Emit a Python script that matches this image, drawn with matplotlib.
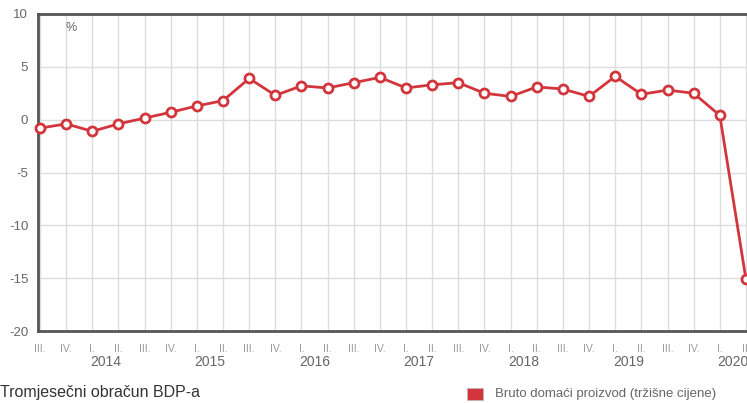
import matplotlib
matplotlib.use("Agg")
import matplotlib.pyplot as plt
import numpy as np

plt.rcParams['font.family'] = ['Liberation Sans', 'DejaVu Sans']
plt.rcParams['axes.unicode_minus'] = False

# quarterly GDP growth, III.2013 - II.2020
quarters = ['III.', 'IV.', 'I.', 'II.', 'III.', 'IV.', 'I.', 'II.', 'III.', 'IV.',
            'I.', 'II.', 'III.', 'IV.', 'I.', 'II.', 'III.', 'IV.', 'I.', 'II.',
            'III.', 'IV.', 'I.', 'II.', 'III.', 'IV.', 'I.', 'II.']
years = ['2014', '2015', '2016', '2017', '2018', '2019', '2020']
values = [-0.8, -0.4, -1.1, -0.4, 0.15, 0.7, 1.3, 1.8, 3.9, 2.3,
          3.2, 3.0, 3.5, 4.0, 3.0, 3.3, 3.5, 2.5, 2.2, 3.1,
          2.9, 2.2, 4.1, 2.4, 2.8, 2.5, 0.4, -15.1]

red = '#d2363c'
grey = '#666666'

fig = plt.figure(figsize=(7.47, 4.03), dpi=100)
ax = fig.add_axes([38 / 747, 1 - 331 / 403, 1 - 38 / 747, 317 / 403])

x = np.arange(len(values))
ax.plot(x, values, color=red, lw=2, marker='o', ms=6.5, mfc='white',
        mec=red, mew=2, zorder=3, clip_on=False)

ax.set_xlim(-0.077, 27.04)
ax.set_ylim(-20, 10)
ax.set_yticks(range(-20, 11, 5))
ax.set_xticks(x)
ax.set_xticklabels(quarters, fontsize=7.5, color='#999999')
ax.tick_params(axis='x', length=0, pad=9)
ax.tick_params(axis='y', length=0, pad=7, labelsize=9.5, labelcolor=grey)

ax.grid(True, color='#dddddd', lw=1)
ax.set_axisbelow(True)
for s in ['left', 'bottom', 'top']:
    ax.spines[s].set_color('#555555')
    ax.spines[s].set_linewidth(2)
ax.spines['right'].set_visible(False)

# year labels centred between I. and II.
first_q1 = quarters.index('I.')
for k, yr in enumerate(years):
    ax.text(first_q1 + 4 * k + 0.5, -0.098, yr, transform=ax.get_xaxis_transform(),
            ha='center', va='center', fontsize=10, color=grey)

ax.text(1.2, 9.2, '%', fontsize=9, color=grey, ha='center', va='top')

fig.text(0.0, 1 - 393 / 403, 'Tromjesečni obračun BDP-a', fontsize=11.5,
         color='#333333', va='center', ha='left')
fig.patches.append(plt.Rectangle((467 / 747, 1 - 400 / 403), 16 / 747, 12 / 403,
                                 transform=fig.transFigure, facecolor=red,
                                 edgecolor='#bbbbbb', lw=0.5))
fig.text(495 / 747, 1 - 394 / 403, 'Bruto domaći proizvod (tržišne cijene)',
         fontsize=9.5, color=grey, va='center', ha='left')

fig.savefig('out.png', dpi=100)
